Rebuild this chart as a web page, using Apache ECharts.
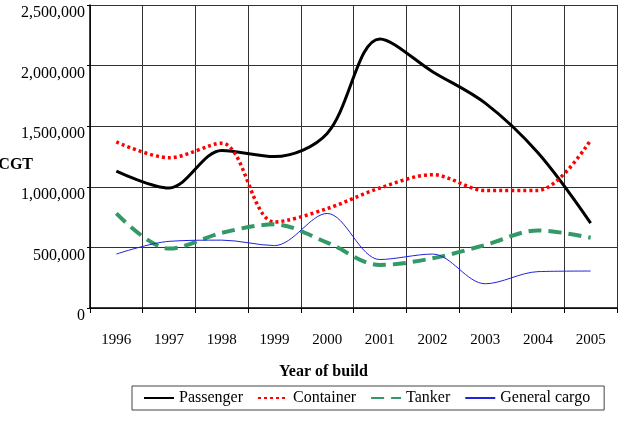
<!DOCTYPE html>
<html>
<head>
<meta charset="utf-8">
<script src="https://cdn.jsdelivr.net/npm/echarts@6/dist/echarts.min.js"></script>
<style>
  html, body { margin: 0; padding: 0; background: #fff; }
  #main { width: 622px; height: 429px; }
</style>
</head>
<body>
<div id="main"></div>
<script>
// years on the x axis
var years = ['1996', '1997', '1998', '1999', '2000', '2001', '2002', '2003', '2004', '2005'];
// CGT per ship type
var passenger = [1130000, 990000, 1300000, 1250000, 1440000, 2220000, 1950000, 1690000, 1280000, 700000];
var container = [1370000, 1240000, 1360000, 710000, 820000, 990000, 1100000, 970000, 970000, 1385000];
var tanker = [780000, 490000, 620000, 690000, 540000, 355000, 410000, 520000, 640000, 580000];
var generalCargo = [445000, 550000, 560000, 515000, 780000, 400000, 445000, 200000, 300000, 305000];

var serif = 'Liberation Serif';

var chart = echarts.init(document.getElementById('main'));
chart.setOption({
  backgroundColor: '#fff',
  animation: false,
  grid: {
    left: 90,
    top: 5,
    right: 5,
    bottom: 121,
    containLabel: false,
    outerBoundsMode: 'none'
  },
  legend: {
    left: 132,
    top: 386,
    padding: [4, 14, 4, 11],
    borderColor: '#444',
    borderWidth: 1,
    itemWidth: 30,
    itemHeight: 12,
    itemGap: 14,
    itemStyle: { opacity: 0 },
    textStyle: { fontFamily: serif, fontSize: 16, color: '#000' },
    data: ['Passenger', 'Container', 'Tanker', 'General cargo']
  },
  xAxis: {
    type: 'category',
    data: years,
    boundaryGap: true,
    name: 'Year of build',
    nameLocation: 'middle',
    nameGap: 56,
    nameMoveOverlap: false,
    nameTextStyle: {
      fontFamily: serif, fontSize: 16, fontWeight: 'bold', color: '#000',
      padding: [0, 60, 0, 0]
    },
    axisLine: { lineStyle: { color: '#000', width: 1.5 } },
    axisTick: { show: true, length: 5, lineStyle: { color: '#000' } },
    axisLabel: { margin: 25, fontFamily: serif, fontSize: 15, color: '#000' },
    splitLine: { show: true, lineStyle: { color: '#333', width: 1 } }
  },
  yAxis: {
    type: 'value',
    min: 0,
    max: 2500000,
    interval: 500000,
    name: 'CGT',
    nameLocation: 'middle',
    nameRotate: 0,
    nameGap: 57,
    nameMoveOverlap: false,
    nameTextStyle: {
      fontFamily: serif, fontSize: 16, fontWeight: 'bold', color: '#000',
      align: 'right',
      verticalAlign: 'top'
    },
    axisLine: { show: true, lineStyle: { color: '#000', width: 1.5 } },
    axisTick: { show: true, length: 3, lineStyle: { color: '#000' } },
    axisLabel: {
      margin: 5,
      verticalAlign: 'top',
      fontFamily: serif,
      fontSize: 16,
      color: '#000',
      formatter: function (v) { return v.toLocaleString('en-US'); }
    },
    splitLine: { show: true, lineStyle: { color: '#333', width: 1 } }
  },
  series: [
    {
      name: 'Passenger',
      type: 'line',
      data: passenger,
      smooth: 0.33,
      symbol: 'none',
      color: '#000',
      lineStyle: { color: '#000', width: 3 }
    },
    {
      name: 'Container',
      type: 'line',
      data: container,
      smooth: 0.33,
      symbol: 'none',
      color: '#ff0000',
      lineStyle: { color: '#ff0000', width: 3.5, type: [3, 3] }
    },
    {
      name: 'Tanker',
      type: 'line',
      data: tanker,
      smooth: 0.33,
      symbol: 'none',
      color: '#339966',
      lineStyle: { color: '#339966', width: 4, type: [13, 7] }
    },
    {
      name: 'General cargo',
      type: 'line',
      data: generalCargo,
      smooth: 0.33,
      symbol: 'none',
      color: '#2222dd',
      lineStyle: { color: '#2222dd', width: 1 }
    }
  ]
});
</script>
</body>
</html>
